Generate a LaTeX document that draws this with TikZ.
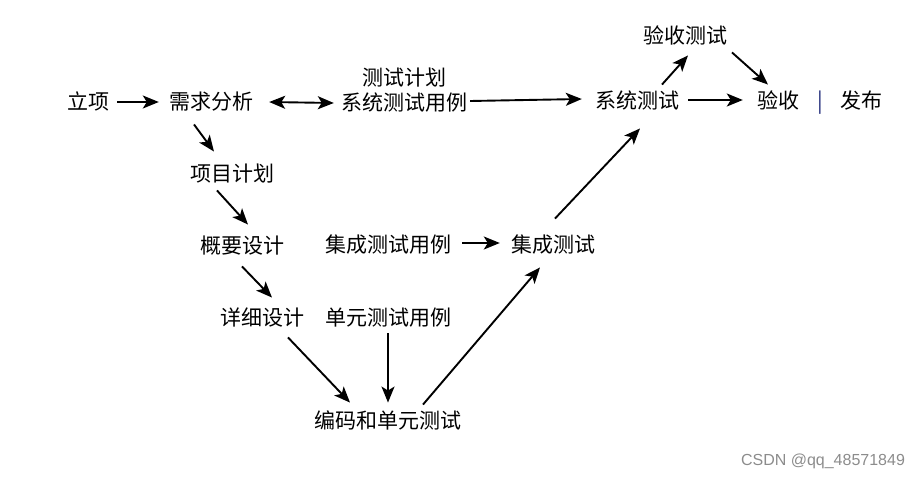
\documentclass[tikz,border=0pt]{standalone}
\usepackage{fontspec}
\setmainfont{Noto Sans CJK SC}
\newfontfamily\wmfont{Liberation Sans}
\usetikzlibrary{arrows.meta}
\definecolor{barblue}{RGB}{30,40,120}
\tikzset{
  lbl/.style={inner sep=0pt, font=\fontsize{21pt}{23pt}\selectfont, text height=18pt, text depth=2.5pt, anchor=center},
  tip/.style={},
  arr/.style={line width=1.9pt, -{Stealth[length=16pt,width=13pt,inset=4pt]}},
  darr/.style={line width=1.9pt, {Stealth[length=16pt,width=13pt,inset=4pt]}-{Stealth[length=16pt,width=13pt,inset=4pt]}}
}
\begin{document}
\begin{tikzpicture}[x=1pt,y=-1pt]
\useasboundingbox (0,0) rectangle (923,479);
\node[lbl] (lx) at (88,102) {立项};
\node[lbl] (r) at (211,102) {需求分析};
\node[lbl] (t1) at (404,78) {测试计划};
\node[lbl] (t2) at (404,103) {系统测试用例};
\node[lbl] (s) at (637,101) {系统测试};
\node[lbl] (a) at (685,36) {验收测试};
\node[lbl] (v) at (778,101) {验收};
\node[lbl, text=barblue] (bar) at (820,101) {|};
\node[lbl] (f) at (861,101) {发布};
\node[lbl] (p) at (232,174) {项目计划};
\node[lbl] (g) at (242,246) {概要设计};
\node[lbl] (ic) at (388,245) {集成测试用例};
\node[lbl] (i) at (553,245) {集成测试};
\node[lbl] (d) at (262,318) {详细设计};
\node[lbl] (u) at (388,318) {单元测试用例};
\node[lbl] (c) at (388,421) {编码和单元测试};
\node[inner sep=0pt, text=black!45, font=\wmfont\fontsize{16pt}{18pt}\selectfont] (wm) at (823,461) {CSDN @qq\_48571849};

\draw[arr] ([xshift=8pt]lx.east) -- ([xshift=-10pt]r.west);
\draw[darr] ([xshift=16pt]r.east) -- ([xshift=-7pt]t2.west);
\draw[arr] ([shift={(3,-2)}]t2.east) -- ([shift={(-13,-2)}]s.west);
\draw[arr] ([shift={(-17,12)}]r.south) -- ([shift={(-18,-12)}]p.north);
\draw[arr] ([shift={(-15,6)}]p.south) -- ([shift={(6,-11)}]g.north);
\draw[arr] ([shift={(0,10)}]g.south) -- ([shift={(10,-10)}]d.north);
\draw[arr] ([shift={(26,9)}]d.south) -- ([shift={(-38,-8)}]c.north);
\draw[arr] ([shift={(0,5)}]u.south) -- ([shift={(0,-8)}]c.north);
\draw[arr] ([shift={(35,-6)}]c.north) -- ([shift={(-13,12)}]i.south);
\draw[arr] ([shift={(11,-2)}]ic.east) -- ([shift={(-11,-2)}]i.west);
\draw[arr] ([shift={(2,-16)}]i.north) -- ([shift={(3,17)}]s.south);
\draw[arr] ([shift={(25,-6)}]s.north) -- ([shift={(3,9)}]a.south);
\draw[arr] ([shift={(47,6)}]a.south) -- ([shift={(-10,-6)}]v.north);
\draw[arr] ([shift={(9,-1)}]s.east) -- ([shift={(-14,-1)}]v.west);
\end{tikzpicture}
\end{document}
